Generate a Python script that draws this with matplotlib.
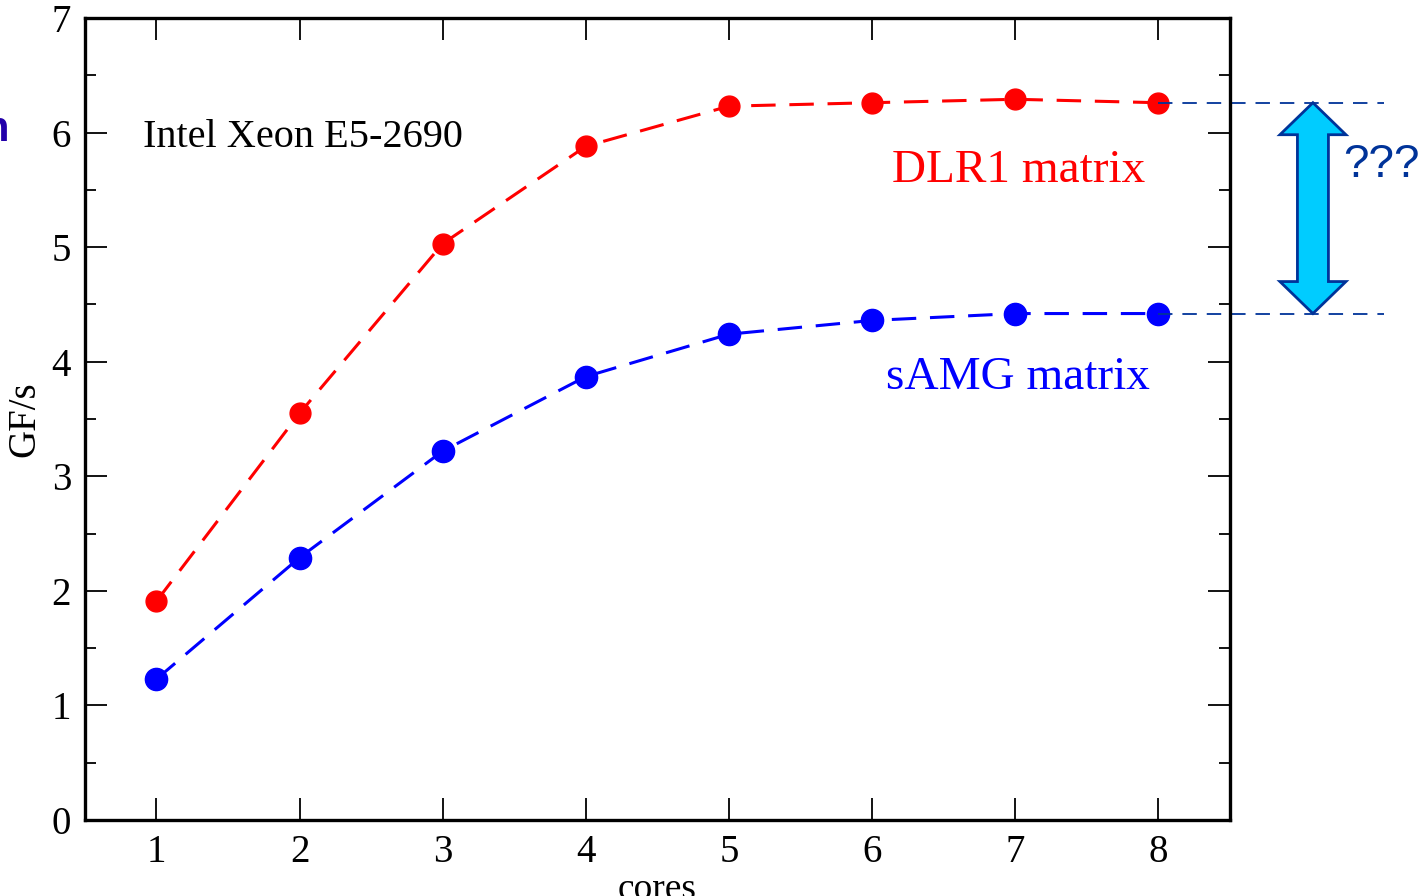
import matplotlib
matplotlib.use("Agg")
import matplotlib.pyplot as plt
from matplotlib.patches import Polygon

# data
cores = [1, 2, 3, 4, 5, 6, 7, 8]
dlr1 = [1.91, 3.55, 5.03, 5.88, 6.23, 6.26, 6.29, 6.26]
samg = [1.23, 2.29, 3.22, 3.87, 4.24, 4.36, 4.42, 4.42]
xticks = [1, 2, 3, 4, 5, 6, 7, 8]
yticks = [0, 1, 2, 3, 4, 5, 6, 7]

plt.rcParams['font.family'] = ['Liberation Serif', 'DejaVu Serif']

fig = plt.figure(figsize=(14.25, 8.96), dpi=100)
ax = fig.add_axes([0.0596, 0.0848, 0.8035, 0.8952])

ax.plot(cores, dlr1, color='red', lw=2.2, dashes=(8, 4.5), marker='o', ms=15)
ax.plot(cores, samg, color='blue', lw=2.2, dashes=(8, 4.5), marker='o', ms=16)

ax.set_xlim(0.5, 8.5)
ax.set_ylim(0, 7)
ax.set_xticks(xticks)
ax.set_yticks(yticks)
ax.set_yticks([y + 0.5 for y in yticks[:-1]], minor=True)
ax.tick_params(which='both', direction='in', top=True, right=True,
               labelsize=28, width=1.3, pad=10)
ax.tick_params(which='major', length=16)
ax.tick_params(which='minor', length=8)
for s in ax.spines.values():
    s.set_linewidth(2.4)

ax.set_xlabel('cores', fontsize=27, labelpad=1)
ax.set_ylabel('GF/s', fontsize=28, labelpad=6)

ax.text(0.905, 5.96, 'Intel Xeon E5-2690', fontsize=29, va='center', ha='left')
ax.text(6.14, 5.67, 'DLR1 matrix', fontsize=34, color='red', va='center', ha='left')
ax.text(6.10, 3.86, 'sAMG matrix', fontsize=34, color='blue', va='center', ha='left')

# annotation: dashed guide lines and double arrow beyond the axes
navy = '#003399'
ax.plot([cores[-1], 9.58], [dlr1[-1], dlr1[-1]], color=navy, lw=1.3,
        dashes=(8, 5.5), clip_on=False)
ax.plot([cores[-1], 9.58], [samg[-1], samg[-1]], color=navy, lw=1.3,
        dashes=(8, 5.5), clip_on=False)

fig.canvas.draw()
xc, ytop = ax.transData.transform((9.08, dlr1[-1]))
_, ybot = ax.transData.transform((9.08, samg[-1]))
sw, hw, hl = 15.5, 33, 32
verts = [(xc, ytop), (xc + hw, ytop - hl), (xc + sw, ytop - hl),
         (xc + sw, ybot + hl), (xc + hw, ybot + hl), (xc, ybot),
         (xc - hw, ybot + hl), (xc - sw, ybot + hl), (xc - sw, ytop - hl),
         (xc - hw, ytop - hl)]
arrow = Polygon(verts, closed=True, transform=None, facecolor='#00CCFF',
                edgecolor=navy, lw=2)
fig.patches.append(arrow)

ax.text(9.29, 5.72, '???', fontsize=33, color=navy, family='Liberation Sans',
        va='center', ha='left', clip_on=False)
fig.text(-0.012, 0.855, 'n', fontsize=30, color='#2200AA', family='Liberation Sans',
         fontweight='bold', va='center')

fig.savefig('out.png', dpi=100)
